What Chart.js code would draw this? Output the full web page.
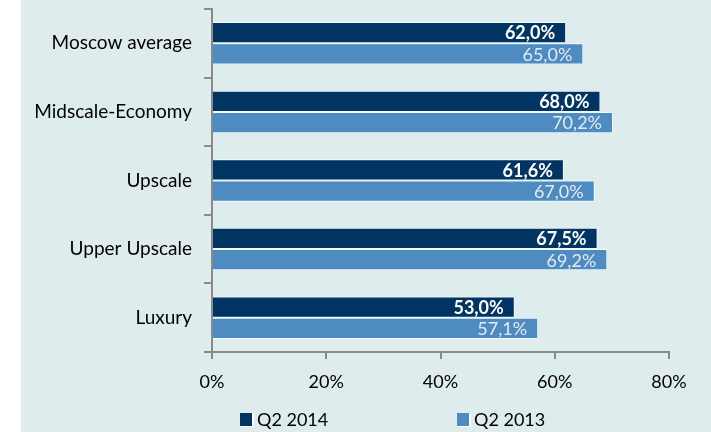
<!DOCTYPE html>
<html lang="en">
<head>
  <meta charset="UTF-8" />
  <title>Occupancy by segment</title>
  <script src="https://cdn.jsdelivr.net/npm/chart.js"></script>
  <style>
    html, body { margin: 0; padding: 0; background: #fff; }
    .wrap { position: absolute; left: 21px; top: 0; width: 690px; height: 432px; background: #deecee; }
  </style>
</head>
<body>
<div class="wrap"><canvas id="chart" width="690" height="432"></canvas></div>
<script>
  const categories = ["Moscow average", "Midscale-Economy", "Upscale", "Upper Upscale", "Luxury"];
  const q2_2014 = [62.0, 68.0, 61.6, 67.5, 53.0];
  const q2_2013 = [65.0, 70.2, 67.0, 69.2, 57.1];
  const seriesNames = ["Q2 2014", "Q2 2013"];
  const xTicks = [0, 20, 40, 60, 80];

  const FONT = "Lato, 'DejaVu Sans', sans-serif";
  const axisGray = "#8a8a8a";

  const fmt = v => v.toFixed(1).replace(".", ",") + "%";

  // values written inside the bar ends
  const valueLabels = {
    id: "valueLabels",
    afterDatasetsDraw(chart) {
      const ctx = chart.ctx;
      ctx.save();
      ctx.textAlign = "right";
      ctx.textBaseline = "middle";
      chart.data.datasets.forEach((ds, i) => {
        const meta = chart.getDatasetMeta(i);
        ctx.font = (i === 0 ? "bold " : "") + "18px " + FONT;
        ctx.fillStyle = i === 0 ? "#ffffff" : "#e2ebf4";
        meta.data.forEach((bar, j) => {
          ctx.fillText(fmt(ds.data[j]), bar.x - 11, bar.y + 1);
        });
      });
      ctx.restore();
    }
  };

  // legend at the bottom, two items spread apart
  const bottomLegend = {
    id: "bottomLegend",
    afterDraw(chart) {
      const ctx = chart.ctx;
      const xs = [219, 436];
      const y = 420;
      ctx.save();
      ctx.font = "18px " + FONT;
      ctx.textBaseline = "middle";
      chart.data.datasets.forEach((ds, i) => {
        const x = xs[i];
        ctx.fillStyle = "#ffffff";
        ctx.fillRect(x + 1, y - 6, 13, 13);
        ctx.fillStyle = ds.backgroundColor;
        ctx.fillRect(x, y - 7, 12, 13);
        ctx.fillStyle = "#000";
        ctx.fillText(ds.label, x + 17, y);
      });
      ctx.restore();
    }
  };

  new Chart(document.getElementById("chart"), {
    type: "bar",
    data: {
      labels: categories,
      datasets: [
        { label: seriesNames[0], data: q2_2014, backgroundColor: "#003462",
          borderColor: "rgba(255,255,255,0.75)", borderWidth: 1,
          categoryPercentage: 0.62, barPercentage: 1 },
        { label: seriesNames[1], data: q2_2013, backgroundColor: "#4e8bc0",
          borderColor: "rgba(255,255,255,0.75)", borderWidth: 1,
          categoryPercentage: 0.62, barPercentage: 1 }
      ]
    },
    options: {
      indexAxis: "y",
      responsive: false,
      animation: false,
      layout: { padding: { top: 9, right: 42, left: 0, bottom: 0 } },
      plugins: { legend: { display: false }, tooltip: { enabled: false } },
      scales: {
        x: {
          min: 0, max: 80,
          afterBuildTicks: s => { s.ticks = xTicks.map(v => ({ value: v })); },
          afterFit: s => { s.height = 80; },
          border: { color: axisGray, width: 2 },
          grid: { drawOnChartArea: false, color: axisGray, lineWidth: 2, tickLength: 7 },
          ticks: { color: "#000", padding: 12, font: { family: FONT, size: 18 },
                   callback: v => v + "%" }
        },
        y: {
          afterFit: s => { s.width = 191; s.paddingTop = 0; s.paddingBottom = 0; },
          border: { color: axisGray, width: 2 },
          grid: { offset: true, drawOnChartArea: false, color: axisGray, lineWidth: 2, tickLength: 8 },
          ticks: { color: "#000", padding: 12, font: { family: FONT, size: 19 } }
        }
      }
    },
    plugins: [valueLabels, bottomLegend]
  });
</script>
</body>
</html>
